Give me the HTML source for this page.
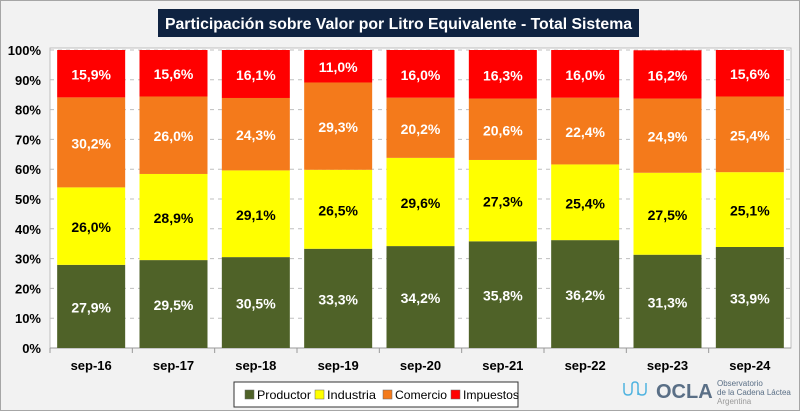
<!DOCTYPE html>
<html><head><meta charset="utf-8"><style>
body{margin:0;background:#f2f2f2;font-family:"Liberation Sans",sans-serif;}
#wrap{position:relative;width:800px;height:411px;background:#f2f2f2;overflow:hidden;box-sizing:border-box;border:1px solid #a6a6a6;}
</style></head><body>
<div id="wrap">
<svg id="chart" width="800" height="411"></svg>
</div>
<script>
const categories=["sep-16","sep-17","sep-18","sep-19","sep-20","sep-21","sep-22","sep-23","sep-24"];
const productor=[27.9,29.5,30.5,33.3,34.2,35.8,36.2,31.3,33.9];
const industria=[26.0,28.9,29.1,26.5,29.6,27.3,25.4,27.5,25.1];
const comercio=[30.2,26.0,24.3,29.3,20.2,20.6,22.4,24.9,25.4];
const impuestos=[15.9,15.6,16.1,11.0,16.0,16.3,16.0,16.2,15.6];
const yTicks=[0,10,20,30,40,50,60,70,80,90,100];

const NS="http://www.w3.org/2000/svg";
const svg=document.getElementById('chart');
function mk(t,a,p){const e=document.createElementNS(NS,t);for(const k in a)e.setAttribute(k,a[k]);(p||svg).appendChild(e);return e;}
const L=49,R=790,T=49,B=347;
const y=v=>B-(B-T)*v/100;
const cw=(R-L)/categories.length,bw=68;
const x=i=>L+i*cw+(cw-bw)/2;

const plot=mk('rect',{x:L,y:T-2,width:R-L,height:B-T+2,fill:'#fff',stroke:'#bfbfbf'});


yTicks.forEach(t=>{
  if(t>0){const g=mk('line',{x1:L,x2:R,y1:y(t),y2:y(t),stroke:'#bfbfbf','stroke-dasharray':'4,4'});
  
  }
  const tx=mk('text',{x:40,y:y(t)+5,'text-anchor':'end','font-size':'13','font-weight':'bold',fill:'#000'});
  tx.textContent=t+'%';
  
  
});
mk('line',{x1:L,x2:R,y1:B,y2:B,stroke:'#999'});
const series=[
 {name:'productor',vals:productor,color:'#4f6228',tc:'#fff'},
 {name:'industria',vals:industria,color:'#ffff00',tc:'#000'},
 {name:'comercio',vals:comercio,color:'#f47a1b',tc:'#fff'},
 {name:'impuestos',vals:impuestos,color:'#ff0000',tc:'#fff'}];
categories.forEach((c,i)=>{
  let acc=0;
  series.forEach(s=>{
    const v=s.vals[i];
    const top=Math.min(acc+v,100);
    const r=mk('rect',{x:x(i),y:y(top),width:bw,height:y(acc)-y(top),fill:s.color});
    
    
    const tx=mk('text',{x:x(i)+bw/2,y:(y(acc)+y(top))/2+6,'text-anchor':'middle','font-size':'14','font-weight':'bold',fill:s.tc});
    tx.textContent=v.toFixed(1).replace('.',',')+'%';
    
    
    acc+=v;
  });
  const cl=mk('text',{x:L+i*cw+cw/2,y:369,'text-anchor':'middle','font-size':'13','font-weight':'bold',fill:'#000'});
  cl.textContent=c;
  
  
  mk('line',{x1:L+i*cw,x2:L+i*cw,y1:B,y2:B+5,stroke:'#999'});
});
// title
const tb=mk('rect',{x:157,y:8,width:481,height:28,fill:'#0f2341'});


const tt=mk('text',{x:164,y:28,'font-size':'16','font-weight':'bold',fill:'#fff',textLength:'467',lengthAdjust:'spacingAndGlyphs'});
tt.textContent='Participación sobre Valor por Litro Equivalente - Total Sistema';


// legend
const lg=mk('rect',{x:233,y:381,width:284,height:25,fill:'#fff',stroke:'#333'});


const legItems=[['Productor',244,54],['Industria',314,49],['Comercio',382,52],['Impuestos',450,56]];
legItems.forEach((it,k)=>{
  const sq=mk('rect',{x:it[1],y:389,width:9,height:9,fill:series[k].color,stroke:'#666','stroke-width':'0.5'});
  
  
  const t=mk('text',{x:it[1]+12,y:398,'font-size':'12',fill:'#000',textLength:it[2],lengthAdjust:'spacingAndGlyphs'});
  t.textContent=it[0];
  
  
});
// logo
const lp=mk('path',{d:'M566 382 v8 q0 4 4 4 q4 0 4 -4 v-6 q0 -3 3 -3 q3 0 3 3 v6 q0 4 4 4 q4 0 4 -4 v-8 M580 384 v10',fill:'none',stroke:'#4fb3e0','stroke-width':'1.5'});
lp.setAttribute('transform','translate(57,0)');


const lo=mk('text',{x:655,y:397,'font-size':'20','font-weight':'bold',fill:'#5a6f86'});
lo.textContent='OCLA';


[['Observatorio',385],['de la Cadena Láctea',394],['Argentina',403]].forEach(a=>{
  const t=mk('text',{x:716,y:a[1],'font-size':'8',fill:a[0]=='Argentina'?'#999':'#5a6f86'});
  t.textContent=a[0];
  
  
});
</script>
</body></html>
